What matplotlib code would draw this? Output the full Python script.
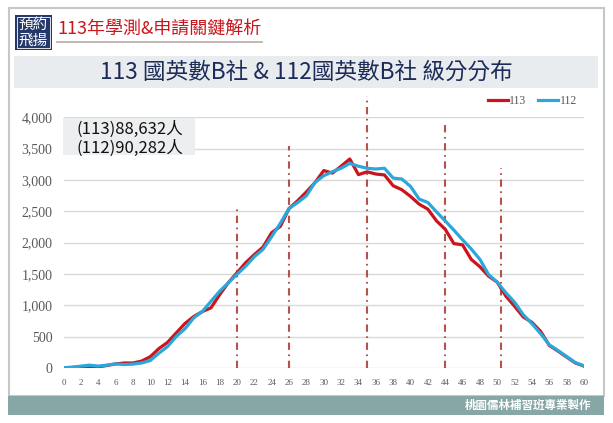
import matplotlib
matplotlib.use('Agg')
import numpy as np
from matplotlib import pyplot as plt
from matplotlib.patches import Rectangle

# level scores 0..60
levels = list(range(0, 61))
counts_113 = [5, 10, 20, 15, 18, 40, 65, 80, 80, 110, 180, 310, 410, 560, 710, 820, 900, 960, 1170, 1360,
              1520, 1680, 1810, 1930, 2160, 2260, 2545, 2670, 2810, 2960, 3150, 3110, 3220, 3335, 3085, 3130,
              3095, 3080, 2908, 2844, 2738, 2614, 2534, 2347, 2214, 1985, 1965, 1733, 1616, 1466, 1369, 1145,
              985, 814, 728, 584, 360, 270, 175, 80, 30]
counts_112 = [5, 10, 30, 45, 30, 45, 66, 55, 62, 80, 119, 237, 343, 503, 625, 798, 900, 1064, 1225, 1359,
              1495, 1625, 1776, 1893, 2097, 2310, 2545, 2641, 2748, 2962, 3068, 3132, 3187, 3265, 3219, 3187,
              3175, 3187, 3030, 3015, 2898, 2695, 2641, 2491, 2347, 2200, 2045, 1900, 1733, 1492, 1369, 1199,
              1049, 851, 707, 547, 370, 279, 183, 87, 34]

# dash-dot marker lines (level, top)
mark_levels = [20, 26, 35, 44, 50.4]
mark_tops = [2566, 3538, 4346, 3905, 3187]

xtick_vals = list(range(0, 61, 2))
ytick_vals = [0, 500, 1000, 1500, 2000, 2500, 3000, 3500, 4000]

W, H = 613, 423
cjk = ['Noto Sans CJK TC', 'DejaVu Sans']
serif = 'Liberation Serif'


def fx(x):
    return x / W


def fy(y):
    return 1 - y / H


fig = plt.figure(figsize=(W / 100, H / 100), dpi=100)
fig.patch.set_facecolor('white')

# panel border and footer
fig.add_artist(Rectangle((fx(8.5), fy(396)), fx(603.5) - fx(8.5), fy(8) - fy(396), transform=fig.transFigure,
                         facecolor='white', edgecolor='#c4c8c8', lw=1.5, zorder=0))
fig.add_artist(Rectangle((fx(8), fy(415)), fx(604) - fx(8), fy(396) - fy(415), transform=fig.transFigure,
                         facecolor='#87a6a6', edgecolor='none', zorder=1))
fig.text(fx(591), fy(405.5), '桃園儒林補習班專業製作', family=cjk, color='white', fontsize=8.3,
         ha='right', va='center', weight='bold')

# logo
fig.add_artist(Rectangle((fx(15), fy(50)), fx(37), fy(15) - fy(50), transform=fig.transFigure,
                         facecolor='#26386b', edgecolor='none', zorder=2))
fig.add_artist(Rectangle((fx(17), fy(48)), fx(33), fy(17) - fy(48), transform=fig.transFigure,
                         facecolor='none', edgecolor='white', lw=0.6, zorder=3))
fig.text(fx(33.5), fy(24.5), '預約', family=cjk, color='white', fontsize=10.5, ha='center', va='center', zorder=4)
fig.text(fx(33.5), fy(40.5), '飛揚', family=cjk, color='white', fontsize=10.5, ha='center', va='center', zorder=4)

# header title
fig.text(fx(57), fy(29), '113年學測&申請關鍵解析', family=cjk, color='#c8161d', fontsize=13,
         ha='left', va='center', weight='medium')
fig.add_artist(plt.Line2D([fx(57), fx(262)], [fy(42.5), fy(42.5)], transform=fig.transFigure,
                          color='#b9aaa6', lw=1.2))

# banner
fig.add_artist(Rectangle((fx(14), fy(88)), fx(598) - fx(14), fy(56) - fy(88), transform=fig.transFigure,
                         facecolor='#e9ecef', edgecolor='none', zorder=1))
fig.text(fx(306), fy(72), '113 國英數B社 & 112國英數B社 級分分布', family=cjk, color='#1d2b58',
         fontsize=16.3, ha='center', va='center', zorder=2, weight='medium')

# chart
ax = fig.add_axes([fx(63.5), fy(368), fx(584) - fx(63.5), fy(117.3) - fy(368)])
ax.set_facecolor('none')
ax.set_xlim(0, 60)
ax.set_ylim(0, 4000)
for v in ytick_vals:
    ax.axhline(v, color='#d9d9d9', lw=1, zorder=0)
for s in ax.spines.values():
    s.set_visible(False)

for lv, top in zip(mark_levels, mark_tops):
    ax.plot([lv, lv], [0, top], color='#b5524a', lw=1.5, linestyle=(0, (3.5, 2.2, 0.8, 2.2)),
            clip_on=False, zorder=1)

ax.plot(levels, counts_113, color='#cc141c', lw=2.3, label='113', zorder=3, solid_joinstyle='round')
ax.plot(levels, counts_112, color='#2aa8dc', lw=2.3, label='112', zorder=4, solid_joinstyle='round')

ax.set_xticks(xtick_vals)
ax.set_xticklabels([str(v) for v in xtick_vals], family=serif, fontsize=6.5, color='#595959')
ax.set_yticks(ytick_vals)
ax.set_yticklabels([f'{v:,}' for v in ytick_vals], family=serif, fontsize=10, color='#595959')
ax.tick_params(axis='x', length=0, pad=8)
ax.tick_params(axis='y', length=0, pad=8)

ax.legend(loc='center left', bbox_to_anchor=(fx(488), fy(101)), bbox_transform=fig.transFigure, ncol=2,
          frameon=False, prop={'family': serif, 'size': 8.5}, labelcolor='#595959', handlelength=1.7,
          handletextpad=0.1, columnspacing=1.0, borderpad=0, borderaxespad=0)

# summary box
fig.add_artist(Rectangle((fx(63), fy(155)), fx(195) - fx(63), fy(118) - fy(155), transform=fig.transFigure,
                         facecolor='#eceef0', edgecolor='none', zorder=5))
fig.text(fx(77), fy(129), '(113)88,632人', family=cjk, color='#111111', fontsize=12, ha='left',
         va='center', zorder=6)
fig.text(fx(77), fy(148), '(112)90,282人', family=cjk, color='#111111', fontsize=12, ha='left',
         va='center', zorder=6)

fig.savefig('out.png', dpi=100)
